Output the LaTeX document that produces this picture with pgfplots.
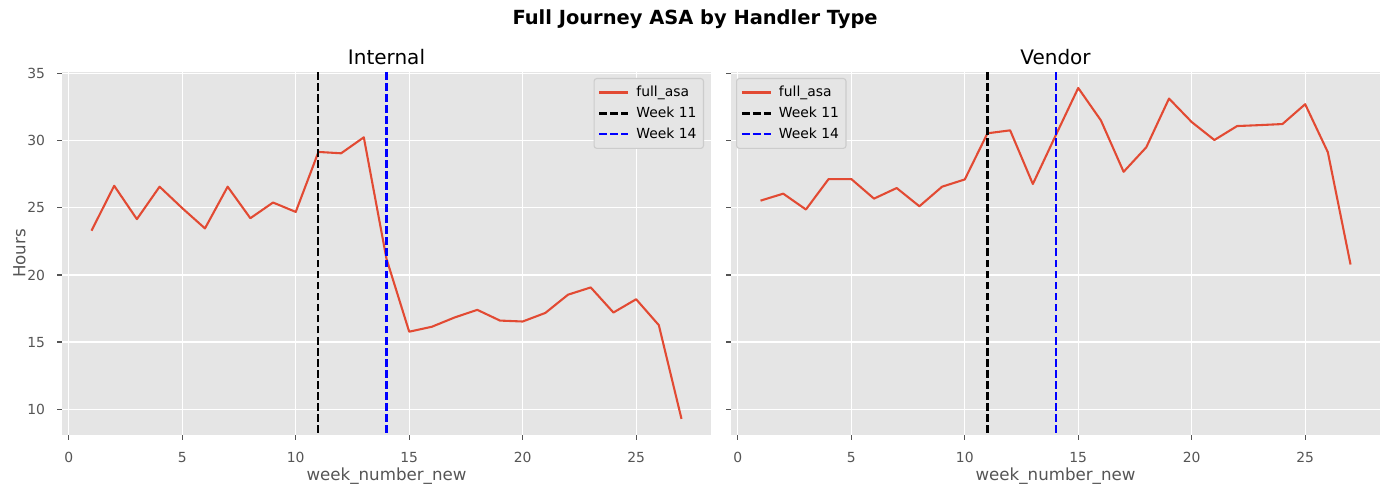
\documentclass[border=0pt]{standalone}
\usepackage{fontspec}
\setmainfont{DejaVu Sans}
\usepackage{pgfplots}
\usepackage{pgfplotstable}
\pgfplotsset{compat=1.18}
\definecolor{ggred}{HTML}{E24A33}
\definecolor{ggbg}{HTML}{E5E5E5}
\definecolor{tickgray}{HTML}{555555}
\definecolor{legedge}{HTML}{CCCCCC}
\definecolor{vblue}{HTML}{0000FF}

\pgfplotstableread{
week internal vendor
1  23.30 25.54
2  26.65 26.06
3  24.16 24.88
4  26.58 27.15
5  24.98 27.15
6  23.47 25.69
7  26.58 26.48
8  24.23 25.12
9  25.40 26.58
10 24.70 27.12
11 29.17 30.56
12 29.07 30.78
13 30.26 26.78
14 21.20 30.38
15 15.77 33.94
16 16.14 31.52
17 16.83 27.69
18 17.40 29.52
19 16.60 33.15
20 16.53 31.40
21 17.17 30.06
22 18.53 31.10
23 19.07 31.17
24 17.20 31.25
25 18.19 32.73
26 16.26 29.15
27  9.27 20.78
}\asadata

\pgfplotsset{
  ggstyle/.style={
    scale only axis, width=467.28pt, height=261.36pt,
    xmin=-0.3, xmax=28.3, ymin=8.07, ymax=35.13,
    xtick={0,5,...,25}, ytick={10,15,...,35},
    axis background/.style={fill=ggbg},
    axis line style={draw=none},
    grid=major, major grid style={white, line width=0.8pt},
    tick align=outside, major tick length=3.5pt,
    tick style={tickgray, line width=0.8pt},
    xtick pos=bottom, ytick pos=left,
    ticklabel style={font=\fontsize{10}{12}\selectfont, text=tickgray},
    xticklabel style={anchor=base, inner sep=0pt, yshift=-16.5pt},
    yticklabel style={anchor=east, inner sep=0pt, xshift=-8.5pt},
    /pgf/number format/assume math mode=true,
    every axis title/.style={font=\fontsize{14.4}{17}\selectfont, at={(axis description cs:0.5,1.0214)}, anchor=base},
    every axis x label/.style={at={(axis description cs:0.5,-0.126)}, anchor=base, font=\fontsize{12}{14}\selectfont, text=tickgray},
    every axis y label/.style={at={(axis description cs:-0.0563,0.5)}, rotate=90, anchor=base, font=\fontsize{12}{14}\selectfont, text=tickgray},
    legend style={draw=legedge, fill=ggbg, rounded corners=2pt, font=\fontsize{10}{12}\selectfont, text=black, line width=0.8pt,
      row sep=2pt, inner xsep=3pt, inner ysep=3.5pt,
      /tikz/every odd column/.append style={column sep=3pt}},
    legend cell align=left,
    legend image code/.code={\draw[#1] (0pt,0pt) -- (21pt,0pt);},
    clip=true,
  }
}

\begin{document}
\begin{tikzpicture}
\useasboundingbox (-44.64pt,-42.48pt) rectangle (955.44pt,313.2pt);
\node[font=\fontsize{14}{17}\selectfont\bfseries] at (455.8pt,299.5pt) {Full Journey ASA by Handler Type};
\begin{axis}[ggstyle, at={(0pt,0pt)}, anchor=south west,
  title={Internal}, xlabel={week\_number\_new}, ylabel={Hours},
  legend style={at={(0.9893,0.9835)}, anchor=north east}]
  \addplot[ggred, line width=1.5pt, line join=round] table[x=week, y=internal] {\asadata};
  \addlegendentry{full\_asa}
  \addplot[black, line width=1.5pt, dash pattern=on 5.55pt off 2.4pt] coordinates {(11,0) (11,40)};
  \addlegendentry{Week 11}
  \addplot[vblue, line width=1.5pt, dash pattern=on 5.55pt off 2.4pt] coordinates {(14,0) (14,40)};
  \addlegendentry{Week 14}
\end{axis}
\begin{axis}[ggstyle, at={(481.7pt,0pt)}, anchor=south west,
  title={Vendor}, xlabel={week\_number\_new}, yticklabels={},
  legend style={at={(0.0077,0.9835)}, anchor=north west}]
  \addplot[ggred, line width=1.5pt, line join=round] table[x=week, y=vendor] {\asadata};
  \addlegendentry{full\_asa}
  \addplot[black, line width=1.5pt, dash pattern=on 5.55pt off 2.4pt] coordinates {(11,0) (11,40)};
  \addlegendentry{Week 11}
  \addplot[vblue, line width=1.5pt, dash pattern=on 5.55pt off 2.4pt] coordinates {(14,0) (14,40)};
  \addlegendentry{Week 14}
\end{axis}
\end{tikzpicture}
\end{document}
